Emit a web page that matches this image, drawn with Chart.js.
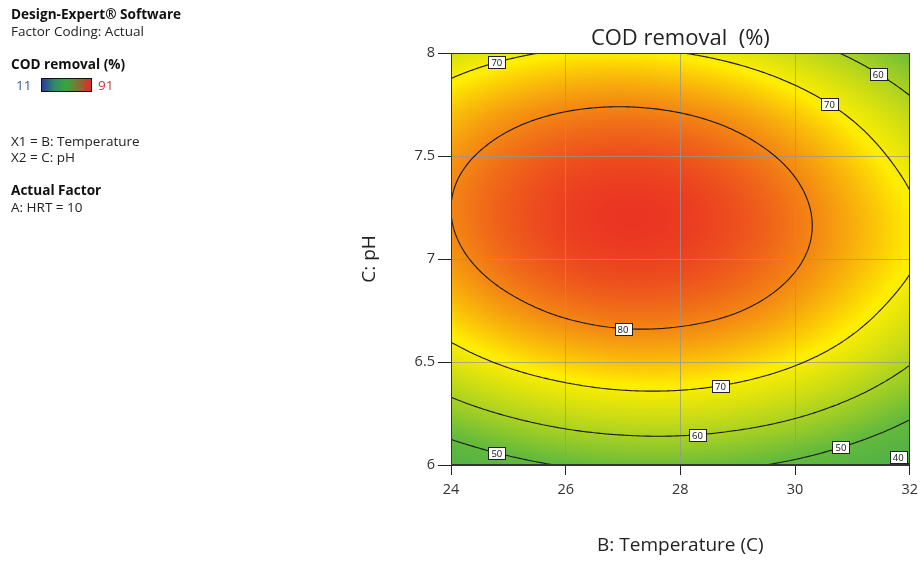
<!DOCTYPE html>
<html>
<head>
<meta charset="utf-8">
<title>COD removal contour</title>
<script src="https://cdn.jsdelivr.net/npm/chart.js@4.4.1/dist/chart.umd.min.js"></script>
<style>
    body { margin: 0; background: #fff; font-family: "Open Sans", "Noto Sans", sans-serif; }
    #wrap { position: relative; width: 924px; height: 563px; overflow: hidden; }
    #chart { position: absolute; left: 0; top: 0; }
    .side { position: absolute; left: 11px; font-size: 13.5px; line-height: 16px; color: #222; white-space: nowrap; }
    .side.b { font-weight: bold; color: #111; font-size: 13.6px; }
    #legend-bar { position: absolute; left: 41px; top: 78px; width: 49px; height: 12px; border: 1px solid #111;
        background: linear-gradient(to right, #2a3c9c 0%, #2f8a6a 25%, #3aa640 50%, #8a6a30 78%, #e8262a 100%); }
</style>
</head>
<body>
<div id="wrap">
    <canvas id="chart" width="924" height="563"></canvas>
    <div class="side b" style="top:6px">Design-Expert® Software</div>
    <div class="side" style="top:23px">Factor Coding: Actual</div>
    <div class="side b" style="top:56px">COD removal (%)</div>
    <div class="side" style="top:77px;left:16px;color:#3a56a8">11</div>
    <div id="legend-bar"></div>
    <div class="side" style="top:77px;left:98px;color:#d4303a">91</div>
    <div class="side" style="top:133px">X1 = B: Temperature</div>
    <div class="side" style="top:149px">X2 = C: pH</div>
    <div class="side b" style="top:182px">Actual Factor</div>
    <div class="side" style="top:199px">A: HRT = 10</div>
</div>
<script>
// --- DATA ---
const tempValues = [24, 25, 26, 27, 28, 29, 30, 31, 32];       // B: Temperature (C)
const phValues = [6, 6.25, 6.5, 6.75, 7, 7.25, 7.5, 7.75, 8];  // C: pH
// COD removal (%) estimated at each temperature, one row per pH
const cod_ph600 = [42.9, 47.4, 50.5, 52.1, 52.3, 51.1, 48.5, 44.5, 39.5];
const cod_ph625 = [56.4, 60.7, 63.6, 65.1, 65.2, 63.8, 61.1, 56.9, 51.3];
const cod_ph650 = [66.8, 71.0, 73.7, 75.1, 75.0, 73.5, 70.6, 66.3, 60.5];
const cod_ph675 = [74.2, 78.2, 80.9, 82.1, 81.8, 80.2, 77.1, 72.6, 66.9];
const cod_ph700 = [78.6, 82.5, 85.0, 86.0, 85.6, 83.8, 80.6, 76.1, 70.8];
const cod_ph725 = [80.0, 83.7, 86.0, 86.9, 86.4, 84.5, 81.1, 76.4, 70.8];
const cod_ph750 = [78.4, 81.9, 84.1, 84.8, 84.2, 82.1, 78.6, 73.6, 67.4];
const cod_ph775 = [73.7, 77.1, 79.1, 79.7, 78.9, 76.7, 73.0, 67.9, 61.4];
const cod_ph800 = [65.5, 68.8, 70.7, 71.1, 70.1, 67.7, 63.9, 58.7, 52.0];
const codRows = [cod_ph600, cod_ph625, cod_ph650, cod_ph675, cod_ph700, cod_ph725, cod_ph750, cod_ph775, cod_ph800];
const contourLevels = [40, 50, 60, 70, 80];
const colorMin = 11, colorMax = 91;
const xTicks = [24, 26, 28, 30, 32];
const yTicks = [6, 6.5, 7, 7.5, 8];

// contour labels: level, temperature, pH search window
const contourLabels = [
    [70, 24.8, 7.8, 8.0], [60, 31.45, 7.7, 8.0], [70, 30.6, 7.5, 7.95],
    [80, 27.0, 6.5, 6.95], [70, 28.7, 6.2, 6.65], [60, 28.3, 6.0, 6.4],
    [50, 24.8, 6.0, 6.3], [50, 30.8, 6.0, 6.35], [40, 31.8, 6.0, 6.2]
];

// --- SURFACE HELPERS ---
// grid padded with one ghost point per side so the cubic spline keeps its shape at the edges
function buildPadded() {
    const rows = codRows.map(r => {
        const n = r.length;
        return [3 * r[0] - 3 * r[1] + r[2], ...r, 3 * r[n - 1] - 3 * r[n - 2] + r[n - 3]];
    });
    const m = rows.length;
    const first = rows[0].map((_, i) => 3 * rows[0][i] - 3 * rows[1][i] + rows[2][i]);
    const last = rows[0].map((_, i) => 3 * rows[m - 1][i] - 3 * rows[m - 2][i] + rows[m - 3][i]);
    return [first, ...rows, last];
}
const padded = buildPadded();

function cr(p0, p1, p2, p3, t) {
    return p1 + 0.5 * t * (p2 - p0 + t * (2 * p0 - 5 * p1 + 4 * p2 - p3 + t * (3 * (p1 - p2) + p3 - p0)));
}

function codAt(x, y) {
    const nx = tempValues.length, ny = phValues.length;
    const gx = (x - tempValues[0]) / (tempValues[1] - tempValues[0]);
    const gy = (y - phValues[0]) / (phValues[1] - phValues[0]);
    const i = Math.min(Math.max(Math.floor(gx), 0), nx - 2);
    const j = Math.min(Math.max(Math.floor(gy), 0), ny - 2);
    const t = gx - i, s = gy - j;
    const v = [];
    for (let r = j; r < j + 4; r++) {
        const row = padded[r];
        v.push(cr(row[i], row[i + 1], row[i + 2], row[i + 3], t));
    }
    return cr(v[0], v[1], v[2], v[3], s);
}

const colorStops = [
    [0, [30, 45, 170]], [0.2, [30, 120, 140]], [0.35, [75, 172, 72]], [0.5, [100, 186, 60]],
    [0.75, [255, 238, 0]], [0.97, [232, 34, 38]], [1, [232, 34, 38]]
];
function colorFor(val) {
    let t = (val - colorMin) / (colorMax - colorMin);
    t = Math.min(Math.max(t, 0), 1);
    for (let k = 1; k < colorStops.length; k++) {
        if (t <= colorStops[k][0]) {
            const [t0, c0] = colorStops[k - 1], [t1, c1] = colorStops[k];
            const f = (t - t0) / (t1 - t0);
            return [c0[0] + (c1[0] - c0[0]) * f, c0[1] + (c1[1] - c0[1]) * f, c0[2] + (c1[2] - c0[2]) * f];
        }
    }
    return colorStops[colorStops.length - 1][1];
}

// --- PLUGINS ---
const surfacePlugin = {
    id: 'surface',
    beforeDraw(chart) {
        const { ctx, chartArea: a, scales: { x, y } } = chart;
        const left = Math.round(a.left), top = Math.round(a.top);
        const w = Math.round(a.right) - left, h = Math.round(a.bottom) - top;
        const img = ctx.createImageData(w, h);
        for (let py = 0; py < h; py++) {
            const yv = y.getValueForPixel(top + py + 0.5);
            for (let px = 0; px < w; px++) {
                const xv = x.getValueForPixel(left + px + 0.5);
                const c = colorFor(codAt(xv, yv));
                const k = (py * w + px) * 4;
                img.data[k] = c[0]; img.data[k + 1] = c[1]; img.data[k + 2] = c[2]; img.data[k + 3] = 255;
            }
        }
        ctx.putImageData(img, left, top);
    }
};

const contourPlugin = {
    id: 'contours',
    afterDatasetsDraw(chart) {
        const { ctx, chartArea: a, scales: { x, y } } = chart;
        const N = 240;
        const x0 = tempValues[0], x1 = tempValues[tempValues.length - 1];
        const y0 = phValues[0], y1 = phValues[phValues.length - 1];
        const dx = (x1 - x0) / N, dy = (y1 - y0) / N;
        const f = [];
        for (let j = 0; j <= N; j++) {
            f.push([]);
            for (let i = 0; i <= N; i++) f[j].push(codAt(x0 + i * dx, y0 + j * dy));
        }
        ctx.save();
        ctx.beginPath();
        ctx.rect(a.left, a.top, a.right - a.left, a.bottom - a.top);
        ctx.clip();
        ctx.strokeStyle = '#161616';
        ctx.lineWidth = 1.1;
        ctx.beginPath();
        contourLevels.forEach(lv => {
            for (let j = 0; j < N; j++) {
                for (let i = 0; i < N; i++) {
                    const c = [[i, j], [i + 1, j], [i + 1, j + 1], [i, j + 1]];
                    const pts = [];
                    for (let e = 0; e < 4; e++) {
                        const [ia, ja] = c[e], [ib, jb] = c[(e + 1) % 4];
                        const va = f[ja][ia] - lv, vb = f[jb][ib] - lv;
                        if ((va < 0) !== (vb < 0)) {
                            const r = va / (va - vb);
                            pts.push([x0 + (ia + (ib - ia) * r) * dx, y0 + (ja + (jb - ja) * r) * dy]);
                        }
                    }
                    for (let p = 0; p + 1 < pts.length; p += 2) {
                        ctx.moveTo(x.getPixelForValue(pts[p][0]), y.getPixelForValue(pts[p][1]));
                        ctx.lineTo(x.getPixelForValue(pts[p + 1][0]), y.getPixelForValue(pts[p + 1][1]));
                    }
                }
            }
        });
        ctx.stroke();

        // labels sit on their contour, found by bisection along pH
        ctx.font = '9.5px "Open Sans", sans-serif';
        ctx.textAlign = 'center';
        ctx.textBaseline = 'middle';
        contourLabels.forEach(([lv, tx, lo, hi]) => {
            let a0 = lo, b0 = hi;
            let fa = codAt(tx, a0) - lv;
            let py;
            if ((fa < 0) === (codAt(tx, b0) - lv < 0)) {
                py = y.getPixelForValue(lo) - 8;   // contour runs out at the edge: keep label just inside
            } else {
                for (let k = 0; k < 40; k++) {
                    const m = (a0 + b0) / 2, fm = codAt(tx, m) - lv;
                    if ((fm < 0) === (fa < 0)) { a0 = m; fa = fm; } else b0 = m;
                }
                py = y.getPixelForValue((a0 + b0) / 2);
            }
            const px = x.getPixelForValue(tx);
            const text = String(lv);
            const bw = Math.round(ctx.measureText(text).width) + 6, bh = 12;
            const bx = Math.round(px - bw / 2) + 0.5, by = Math.round(py - bh / 2) + 0.5;
            ctx.fillStyle = '#fff';
            ctx.fillRect(bx, by, bw, bh);
            ctx.strokeStyle = '#222';
            ctx.lineWidth = 1;
            ctx.strokeRect(bx, by, bw, bh);
            ctx.fillStyle = '#111';
            ctx.fillText(text, px, by + bh / 2 + 0.5);
        });
        ctx.restore();

        // frame
        ctx.save();
        ctx.strokeStyle = '#333';
        ctx.lineWidth = 1;
        ctx.strokeRect(Math.round(a.left) + 0.5, Math.round(a.top) + 0.5, Math.round(a.right - a.left) - 1, Math.round(a.bottom - a.top) - 1);
        ctx.restore();
    }
};

// --- CHART ---
const surfacePoints = [];
phValues.forEach((ph, j) => tempValues.forEach((t, i) => surfacePoints.push({ x: t, y: ph, v: codRows[j][i] })));

const axisFont = { family: '"Open Sans", sans-serif', size: 19 };
const tickFont = { family: '"Open Sans", sans-serif', size: 14.5 };

new Chart(document.getElementById('chart'), {
    type: 'scatter',
    data: { datasets: [{ label: 'COD removal (%)', data: surfacePoints, pointRadius: 0, pointHoverRadius: 0 }] },
    options: {
        responsive: false,
        animation: false,
        events: [],
        layout: { padding: { left: 351, right: 12, top: 0, bottom: 0 } },
        plugins: {
            legend: { display: false },
            tooltip: { enabled: false },
            title: {
                display: true, fullSize: false, text: 'COD removal  (%)', color: '#222',
                font: { family: '"Open Sans", sans-serif', size: 22, weight: 'normal' },
                padding: { top: 26, bottom: 0.6 }
            }
        },
        scales: {
            x: {
                type: 'linear', min: 24, max: 32,
                afterBuildTicks: s => { s.ticks = xTicks.map(v => ({ value: v })); },
                afterFit: s => { s.height = 98; },
                grid: { color: 'rgba(150,150,150,0.75)', tickColor: '#222', tickLength: 10, lineWidth: 1 },
                border: { color: '#333' },
                ticks: { color: '#333', padding: 6, callback: v => String(v), font: tickFont },
                title: { display: true, text: 'B: Temperature (C)', color: '#222', padding: { top: 0, bottom: 5.6 }, font: axisFont }
            },
            y: {
                type: 'linear', min: 6, max: 8,
                afterBuildTicks: s => { s.ticks = yTicks.map(v => ({ value: v })); },
                afterFit: s => { s.width = 100; },
                grid: { color: 'rgba(150,150,150,0.75)', tickColor: '#222', tickLength: 13, lineWidth: 1 },
                border: { color: '#333' },
                ticks: { color: '#333', padding: 3, callback: v => String(v), font: tickFont },
                title: { display: true, text: 'C: pH', color: '#222', padding: { top: 7.6, bottom: 0 }, font: axisFont }
            }
        }
    },
    plugins: [surfacePlugin, contourPlugin]
});
</script>
</body>
</html>
